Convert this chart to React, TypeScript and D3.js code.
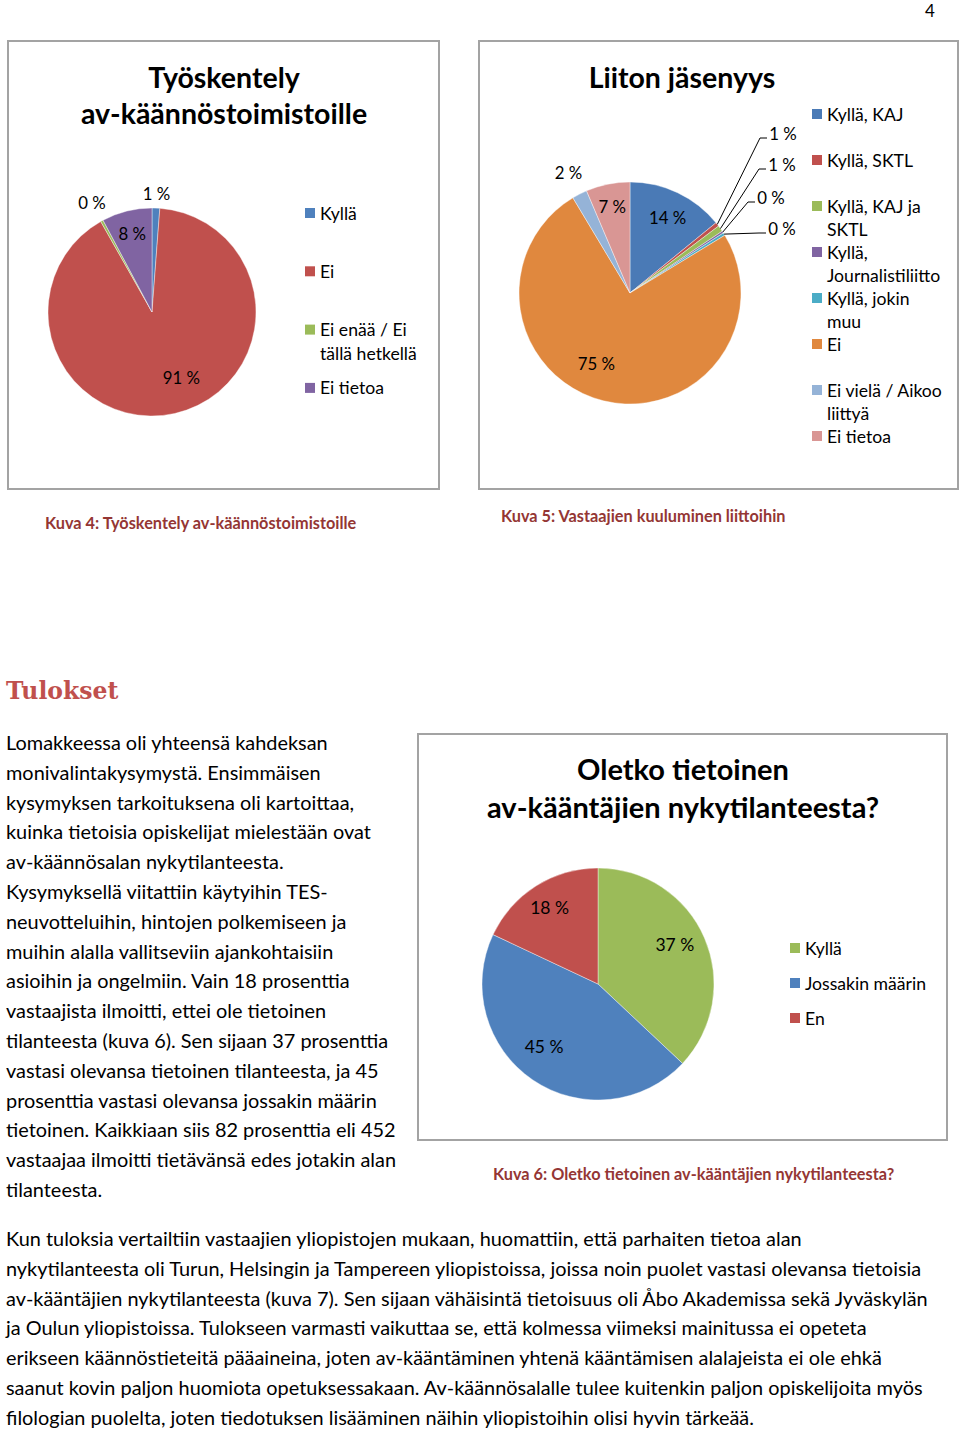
import React from 'react';
import * as d3 from 'd3';

// Kuva 4
const workCategories = ['Kyllä', 'Ei', 'Ei enää / Ei tällä hetkellä', 'Ei tietoa'];
const workValues = [1.2, 90.6, 0.4, 7.8];
const workLabels = ['1 %', '91 %', '0 %', '8 %'];
const workLegend = [['Kyllä'], ['Ei'], ['Ei enää / Ei', 'tällä hetkellä'], ['Ei tietoa']];

// Kuva 5
const unionCategories = [
  'Kyllä, KAJ', 'Kyllä, SKTL', 'Kyllä, KAJ ja SKTL', 'Kyllä, Journalistiliitto',
  'Kyllä, jokin muu', 'Ei', 'Ei vielä / Aikoo liittyä', 'Ei tietoa',
];
const unionValues = [14.1, 0.6, 0.9, 0.3, 0.4, 75.1, 2.2, 6.4];
const unionLabels = ['14 %', '1 %', '1 %', '0 %', '0 %', '75 %', '2 %', '7 %'];
const unionLegend = [
  ['Kyllä, KAJ'], ['Kyllä, SKTL'], ['Kyllä, KAJ ja', 'SKTL'], ['Kyllä,', 'Journalistiliitto'],
  ['Kyllä, jokin', 'muu'], ['Ei'], ['Ei vielä / Aikoo', 'liittyä'], ['Ei tietoa'],
];

// Kuva 6
const awareCategories = ['Kyllä', 'Jossakin määrin', 'En'];
const awareValues = [37, 45, 18];
const awareLabels = ['37 %', '45 %', '18 %'];

const leftText = [
  'Lomakkeessa oli yhteensä kahdeksan',
  'monivalintakysymystä. Ensimmäisen',
  'kysymyksen tarkoituksena oli kartoittaa,',
  'kuinka tietoisia opiskelijat mielestään ovat',
  'av-käännösalan nykytilanteesta.',
  'Kysymyksellä viitattiin käytyihin TES-',
  'neuvotteluihin, hintojen polkemiseen ja',
  'muihin alalla vallitseviin ajankohtaisiin',
  'asioihin ja ongelmiin. Vain 18 prosenttia',
  'vastaajista ilmoitti, ettei ole tietoinen',
  'tilanteesta (kuva 6). Sen sijaan 37 prosenttia',
  'vastasi olevansa tietoinen tilanteesta, ja 45',
  'prosenttia vastasi olevansa jossakin määrin',
  'tietoinen. Kaikkiaan siis 82 prosenttia eli 452',
  'vastaajaa ilmoitti tietävänsä edes jotakin alan',
  'tilanteesta.',
];
const bottomText = [
  'Kun tuloksia vertailtiin vastaajien yliopistojen mukaan, huomattiin, että parhaiten tietoa alan',
  'nykytilanteesta oli Turun, Helsingin ja Tampereen yliopistoissa, joissa noin puolet vastasi olevansa tietoisia',
  'av-kääntäjien nykytilanteesta (kuva 7). Sen sijaan vähäisintä tietoisuus oli Åbo Akademissa sekä Jyväskylän',
  'ja Oulun yliopistoissa. Tulokseen varmasti vaikuttaa se, että kolmessa viimeksi mainitussa ei opeteta',
  'erikseen käännöstieteitä pääaineina, joten av-kääntäminen yhtenä kääntämisen alalajeista ei ole ehkä',
  'saanut kovin paljon huomiota opetuksessakaan. Av-käännösalalle tulee kuitenkin paljon opiskelijoita myös',
  'filologian puolelta, joten tiedotuksen lisääminen näihin yliopistoihin olisi hyvin tärkeää.',
];

const FONT = 'Lato, "Open Sans", sans-serif';
const CAPTION = '#943634';
const BORDER = '#a3a3a3';

const workColors = ['#4f81bd', '#c0504d', '#9bbb59', '#8064a2'];
const unionColors = ['#4a7ab6', '#c0504d', '#9bbb59', '#8064a2', '#4bacc6', '#e0883e', '#95b3d7', '#d99694'];
const awareColors = ['#9bbb59', '#4f81bd', '#c0504d'];

type LabelPos = { k: number; dx?: number; dy?: number; leader?: [number, number] };

type PieProps = {
  cx: number; cy: number; r: number;
  values: number[]; colors: string[]; labels: string[];
  labelPos: LabelPos[]; fontSize: number;
};

const Pie = ({ cx, cy, r, values, colors, labels, labelPos, fontSize }: PieProps) => {
  const slices = d3.pie<number>().sort(null).value(d => d)(values);
  const arc = d3.arc<d3.PieArcDatum<number>>().innerRadius(0).outerRadius(r);
  return (
    <g transform={`translate(${cx},${cy})`}>
      {slices.map((s, i) => (
        <path key={i} d={arc(s) || ''} fill={colors[i]} stroke="#fff" strokeWidth={0.4} />
      ))}
      {slices.map((s, i) => {
        const lp = labelPos[i];
        if (lp.leader) {
          // small slices: label out to the side with a leader line
          const mid = (s.startAngle + s.endAngle) / 2;
          const px = r * Math.sin(mid);
          const py = -r * Math.cos(mid);
          const [tx, ty] = lp.leader;
          const tl = tx - 14;
          return (
            <g key={'l' + i}>
              <polyline
                points={`${px},${py} ${tl - 9},${ty + 5} ${tl - 2},${ty + 5}`}
                fill="none" stroke="#000" strokeWidth={1}
              />
              <text x={tx} y={ty} textAnchor="middle" dominantBaseline="central"
                fontSize={fontSize} fontFamily={FONT} fill="#000">{labels[i]}</text>
            </g>
          );
        }
        const la = d3.arc<d3.PieArcDatum<number>>().innerRadius(r * lp.k).outerRadius(r * lp.k);
        const [x, y] = la.centroid(s);
        return (
          <text key={'t' + i} x={x + (lp.dx || 0)} y={y + (lp.dy || 0)} textAnchor="middle"
            dominantBaseline="central" fontSize={fontSize} fontFamily={FONT} fill="#000">
            {labels[i]}
          </text>
        );
      })}
    </g>
  );
};

type LegendProps = {
  x: number; y: number; items: string[][]; colors: string[];
  step: number; lineStep: number; fontSize: number; keys: string[];
};

const Legend = ({ x, y, items, colors, step, lineStep, fontSize, keys }: LegendProps) => (
  <g>
    {items.map((lines, i) => (
      <g key={keys[i]} transform={`translate(${x},${y + i * step})`}>
        <rect x={0} y={-5} width={10} height={10} fill={colors[i]} />
        {lines.map((ln, j) => (
          <text key={j} x={15} y={j * lineStep} dominantBaseline="central"
            fontSize={fontSize} fontFamily={FONT} fill="#000">{ln}</text>
        ))}
      </g>
    ))}
  </g>
);

const App = () => {
  const bodySize = 19.9;
  const titleSize = 28.5;
  const capSize = 16.3;
  const legSize = 17.6;
  const lblSize = 16.8;
  return (
    <div style={{ position: 'absolute', left: 0, top: 0 }}>
      <svg width={960} height={1430} style={{ display: 'block', background: '#fff' }}>
        <text x={930} y={17} textAnchor="middle" fontSize={17} fontFamily={FONT}>4</text>

        {/* Kuva 4 */}
        <rect x={8} y={41} width={431} height={448} fill="#fff" stroke={BORDER} strokeWidth={2} />
        <text x={224} y={77} textAnchor="middle" dominantBaseline="central" fontSize={titleSize} fontWeight="bold" fontFamily={FONT}>Työskentely</text>
        <text x={224} y={113} textAnchor="middle" dominantBaseline="central" fontSize={titleSize} fontWeight="bold" fontFamily={FONT}>av-käännöstoimistoille</text>
        <Pie cx={152} cy={312} r={104} values={workValues} colors={workColors} labels={workLabels}
          fontSize={lblSize}
          labelPos={[{ k: 1.14 }, { k: 0.68, dx: 14, dy: -4 }, { k: 1.2 }, { k: 0.78 }]} />
        <Legend x={305} y={213} items={workLegend} colors={workColors} step={58.3} lineStep={24}
          fontSize={legSize} keys={workCategories} />
        <text x={45} y={522} dominantBaseline="central" fontSize={capSize} fontWeight="bold" fontFamily={FONT} fill={CAPTION}>
          Kuva 4: Työskentely av-käännöstoimistoille
        </text>

        {/* Kuva 5 */}
        <rect x={479} y={41} width={479} height={448} fill="#fff" stroke={BORDER} strokeWidth={2} />
        <text x={682} y={77} textAnchor="middle" dominantBaseline="central" fontSize={titleSize} fontWeight="bold" fontFamily={FONT}>Liiton jäsenyys</text>
        <Pie cx={630} cy={293} r={111} values={unionValues} colors={unionColors} labels={unionLabels}
          fontSize={lblSize}
          labelPos={[
            { k: 0.75, dx: 2 },
            { k: 1, leader: [153, -160] },
            { k: 1, leader: [152, -129] },
            { k: 1, leader: [141, -96] },
            { k: 1, leader: [152, -65] },
            { k: 0.7, dx: -15, dy: -5 },
            { k: 1.22 },
            { k: 0.8 },
          ]} />
        <Legend x={812} y={114} items={unionLegend} colors={unionColors} step={46} lineStep={23}
          fontSize={legSize} keys={unionCategories} />
        <text x={501} y={515} dominantBaseline="central" fontSize={capSize} fontWeight="bold" fontFamily={FONT} fill={CAPTION}>
          Kuva 5: Vastaajien kuuluminen liittoihin
        </text>

        {/* Tulokset */}
        <text x={6} y={691} dominantBaseline="central" fontSize={23.5} fontWeight="bold" fontFamily='"DejaVu Serif", serif' fill="#c0504d">Tulokset</text>
        {leftText.map((ln, i) => (
          <text key={'lt' + i} x={6} y={742 + i * 29.8} dominantBaseline="central" fontSize={bodySize} fontFamily={FONT} fill="#000">{ln}</text>
        ))}

        {/* Kuva 6 */}
        <rect x={418} y={734} width={529} height={406} fill="#fff" stroke={BORDER} strokeWidth={2} />
        <text x={683} y={768} textAnchor="middle" dominantBaseline="central" fontSize={29} fontWeight="bold" fontFamily={FONT}>Oletko tietoinen</text>
        <text x={683} y={806} textAnchor="middle" dominantBaseline="central" fontSize={29} fontWeight="bold" fontFamily={FONT}>av-kääntäjien nykytilanteesta?</text>
        <Pie cx={598} cy={984} r={116} values={awareValues} colors={awareColors} labels={awareLabels}
          fontSize={17.5}
          labelPos={[{ k: 0.75, dx: -3, dy: -5 }, { k: 0.75, dx: -5, dy: -9 }, { k: 0.78 }]} />
        <Legend x={790} y={948} items={awareCategories.map(c => [c])} colors={awareColors} step={35} lineStep={23}
          fontSize={legSize} keys={awareCategories} />
        <text x={493} y={1173} dominantBaseline="central" fontSize={capSize} fontWeight="bold" fontFamily={FONT} fill={CAPTION}>
          Kuva 6: Oletko tietoinen av-kääntäjien nykytilanteesta?
        </text>

        {bottomText.map((ln, i) => (
          <text key={'bt' + i} x={6} y={1238 + i * 29.8} dominantBaseline="central" fontSize={bodySize} fontFamily={FONT} fill="#000">{ln}</text>
        ))}
      </svg>
    </div>
  );
};

export default App;
